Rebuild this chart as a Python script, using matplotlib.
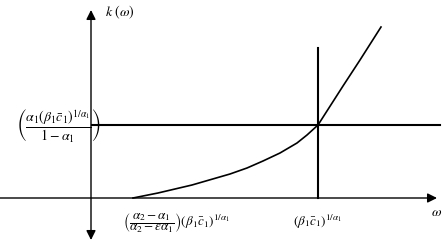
import numpy as np
import matplotlib
matplotlib.use("Agg")
import matplotlib.pyplot as plt

plt.rcParams['mathtext.fontset'] = 'stix'
plt.rcParams['font.family'] = ['Liberation Serif', 'DejaVu Serif']

# curve k(omega) (origin at the axes crossing)
omega = [42, 67, 101, 139, 156, 172, 189, 206, 216, 227, 252, 269, 290]
k = [0, 5, 13, 24, 30, 37, 45, 55, 63, 73, 112, 138, 171]

k_star = 73        # horizontal level
omega_star = 227   # vertical line position
omega_low = 42     # where the curve starts

lbl_k = r'$\left(\dfrac{\alpha_1(\beta_1\bar{c}_1)^{1/\alpha_1}}{1-\alpha_1}\right)$'
lbl_low = r'$\left(\dfrac{\alpha_2-\alpha_1}{\alpha_2-\varepsilon\alpha_1}\right)(\beta_1\bar{c}_1)^{1/\alpha_1}$'
lbl_star = r'$(\beta_1\bar{c}_1)^{1/\alpha_1}$'

fig = plt.figure(figsize=(4.46, 2.46), dpi=100)
ax = fig.add_axes([0, 0, 1, 1])
ax.set_xlim(-91, 355)
ax.set_ylim(-48, 198)
ax.axis('off')

# axes with arrow heads
ax.annotate('', xy=(346, 0), xytext=(-91, 0),
            arrowprops=dict(arrowstyle='-|>', color='k', lw=1.0,
                            mutation_scale=14, shrinkA=0, shrinkB=0))
ax.annotate('', xy=(0, 188), xytext=(0, -42),
            arrowprops=dict(arrowstyle='<|-|>', color='k', lw=1.0,
                            mutation_scale=14, shrinkA=0, shrinkB=0))

ax.plot([1, 349], [k_star, k_star], color='k', lw=1.5)
ax.plot([omega_star, omega_star], [0, 150], color='k', lw=1.5)
ax.plot(omega, k, color='k', lw=1.2)

ax.text(14, 186, r'$k\ (\omega)$', fontsize=10, ha='left', va='center')
ax.text(346, -14, r'$\omega$', fontsize=10, ha='center', va='center')
ax.text(-33, k_star, lbl_k, fontsize=10, ha='center', va='center')
ax.text(omega_low + 44, -25, lbl_low, fontsize=9.5, ha='center', va='center')
ax.text(omega_star, -24, lbl_star, fontsize=9.5, ha='center', va='center')

fig.savefig('out.png', dpi=100)
